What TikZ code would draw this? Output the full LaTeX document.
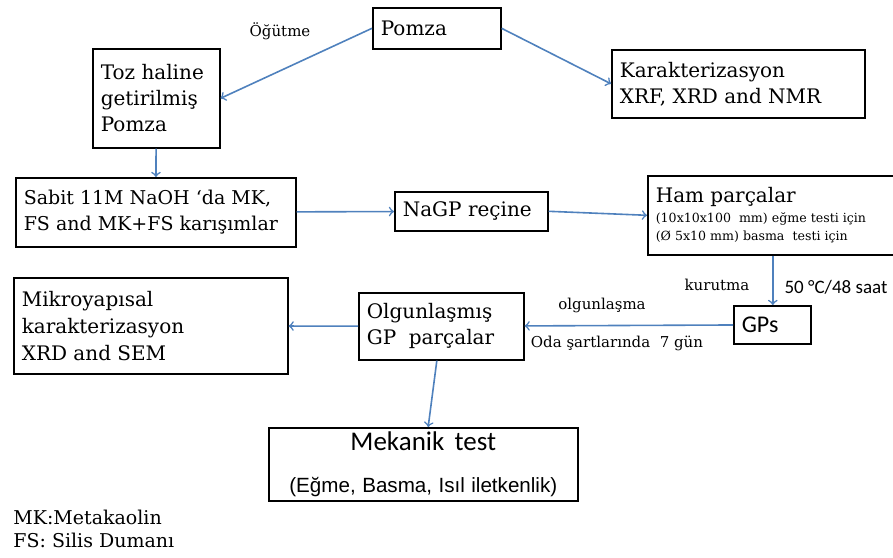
\documentclass[tikz,border=0pt]{standalone}
\usepackage{fontspec}
\setmainfont{DejaVu Serif}
\newfontfamily\calibri{Carlito}
\newfontfamily\arial{Liberation Sans}
\usetikzlibrary{calc}
\definecolor{okmavi}{RGB}{79,129,189}
\tikzstyle{kutu}=[draw, line width=0.8pt, anchor=north west, inner xsep=4pt, inner ysep=2pt, align=left, font=\fontsize{10}{13}\selectfont, execute at begin node={\spaceskip=0pt\xspaceskip=0pt}]
\tikzstyle{ok}=[->, color=okmavi, line width=0.8pt]
\tikzstyle{etiket}=[inner sep=0pt, font=\fontsize{7.5}{9}\selectfont]

\begin{document}
\begin{tikzpicture}[x=0.5pt, y=-0.5pt]
  \useasboundingbox (0,0) rectangle (893,557);
  \clip (0,0) rectangle (893,557);
  \node[kutu, minimum height=20.5pt, text width=56pt] (pomza) at (372,7) {Pomza};
  \node[kutu, minimum height=49.5pt, text width=55.5pt] (toz) at (92,48) {Toz haline\\getirilmiş\\Pomza};
  \node[kutu, minimum height=34pt, text width=118.5pt] (kar) at (611,49) {Karakterizasyon\\XRF, XRD and NMR};
  \node[kutu, minimum height=34.5pt, text width=132pt, font=\fontsize{9.5}{13}\selectfont] (sabit) at (15,177) {Sabit 11M NaOH ‘da MK,\\FS and MK+FS karışımlar};
  \node[kutu, minimum height=19.5pt, text width=68.5pt] (nagp) at (394,191) {NaGP reçine};
  \node[kutu, minimum height=39.5pt, text width=117pt, font=\fontsize{6.3}{9}\selectfont] (ham) at (647,175)
    {{\fontsize{10}{13}\selectfont Ham parçalar}\\[1pt](10x10x100\ \ mm) eğme testi için\\(Ø 5x10 mm) basma\ \ testi için};
  \node[kutu, minimum height=19pt, text width=30.5pt, font=\calibri\fontsize{12}{14}\selectfont] (gps) at (733,305) {GPs};
  \node[kutu, minimum height=33.5pt, text width=74.5pt] (olg) at (358,292) {Olgunlaşmış\\GP\ \ parçalar};
  \node[kutu, minimum height=48pt, text width=129pt, font=\fontsize{10}{13.5}\selectfont] (mikro) at (13,277) {Mikroyapısal\\karakterizasyon\\XRD and SEM};
  \node[kutu, minimum height=35pt, text width=146.5pt, align=center, font=\calibri\fontsize{13.5}{20}\selectfont] (mek) at (268,427)
    {Mekanik test\\[1pt]{\arial\fontsize{10.3}{12}\selectfont (Eğme, Basma, Isıl iletkenlik)}};
  \node[etiket] (ogut) at (280,31) {Öğütme};
  \node[etiket] (kurut) at (717,285) {kurutma};
  \node[etiket, font=\calibri\fontsize{9.5}{11}\selectfont] (sicak) at (836,287) {50 °C/48 saat};
  \node[etiket] (olgun) at (602,305) {olgunlaşma};
  \node[etiket] (oda) at (617,343) {Oda şartlarında\ \ 7 gün};
  \node[etiket, anchor=west, align=left, font=\fontsize{9.5}{11.5}\selectfont] (not) at (13,529) {MK:Metakaolin\\FS: Silis Dumanı};
  \path[ok] (pomza.west) edge (toz.east)
            (pomza.east) edge (kar.west)
            (toz)   edge (sabit)
            (sabit) edge (nagp)
            (nagp.east)  edge (ham.west)
            (ham.south)  edge (ham.south |- gps.north)
            (gps)   edge (olg)
            (olg)   edge (mikro)
                    edge (mek);
\end{tikzpicture}
\end{document}
